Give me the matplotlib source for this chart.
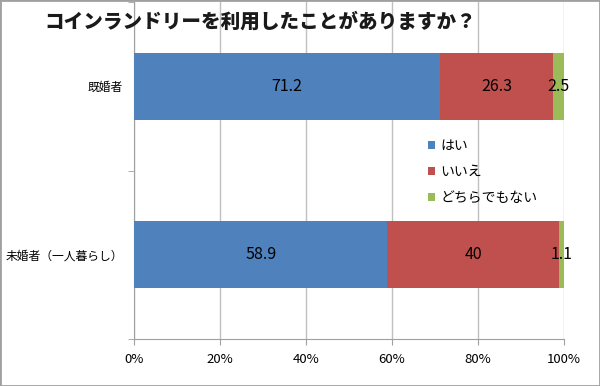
import matplotlib
matplotlib.use("Agg")
import matplotlib.pyplot as plt
from matplotlib.patches import Rectangle

plt.rcParams['font.family'] = ['Noto Sans CJK JP', 'DejaVu Sans']

# data
title = "コインランドリーを利用したことがありますか？"
groups = ["未婚者（一人暮らし）", "既婚者"]
series_names = ["はい", "いいえ", "どちらでもない"]
yes = [58.9, 71.2]
no = [40.0, 26.3]
neither = [1.1, 2.5]
colors = ["#4F81BD", "#C0504D", "#9BBB59"]
xticks = [0, 20, 40, 60, 80, 100]

fig = plt.figure(figsize=(6.0, 3.86), dpi=100)
ax = fig.add_axes([134 / 600, 47 / 386, 430 / 600, 337 / 386])

ypos = list(range(len(groups)))
left = [0.0] * len(groups)
for vals, name, col in zip([yes, no, neither], series_names, colors):
    ax.barh(ypos, vals, left=left, height=0.4, color=col, label=name, zorder=3)
    for y, v, l in zip(ypos, vals, left):
        ax.text(l + v / 2, y, f"{v:g}", ha='center', va='center',
                fontsize=11.5, color='black', zorder=4)
    left = [a + b for a, b in zip(left, vals)]

ax.set_xlim(0, 100)
ax.set_ylim(-0.5, len(groups) - 0.5)
ax.set_xticks(xticks)
ax.set_xticklabels([f"{t}%" for t in xticks], fontsize=9.5)
ax.set_yticks(ypos)
ax.set_yticklabels(groups, fontsize=8.5)
ax.set_yticks([-0.5, 0.5, 1.5], minor=True)
ax.tick_params(axis='y', which='major', length=0, pad=8)
ax.tick_params(axis='y', which='minor', length=4, color='#A0A0A0', direction='out')
ax.tick_params(axis='x', length=4, color='#A0A0A0', direction='out', pad=6)

ax.grid(axis='x', color='#C0C0C0', linewidth=1, zorder=0)
for side in ['top', 'right']:
    ax.spines[side].set_visible(False)
for side in ['left', 'bottom']:
    ax.spines[side].set_color('#A0A0A0')

fig.text(260 / 600, 1 - 22 / 386, title, ha='center', va='center',
         fontsize=14.1, fontweight='heavy', color='#1a1a1a')

ax.legend(loc='upper left', bbox_to_anchor=(422 / 600, 1 - 133 / 386),
          bbox_transform=fig.transFigure, frameon=False, fontsize=10,
          handlelength=0.5, handleheight=0.5, handletextpad=0.4,
          labelspacing=0.87, borderaxespad=0)

fig.patches.append(Rectangle((0, 0), 1, 1, transform=fig.transFigure,
                             fill=False, edgecolor='#A0A0A0', linewidth=2))

fig.savefig("out.png", dpi=100)
